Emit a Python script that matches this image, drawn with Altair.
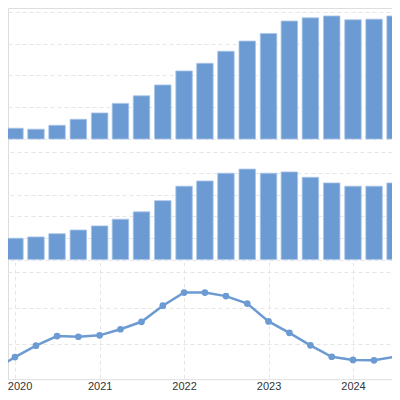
import altair as alt
import pandas as pd

quarters = ["2019-10-01", "2020-01-01", "2020-04-01", "2020-07-01", "2020-10-01",
            "2021-01-01", "2021-04-01", "2021-07-01", "2021-10-01",
            "2022-01-01", "2022-04-01", "2022-07-01", "2022-10-01",
            "2023-01-01", "2023-04-01", "2023-07-01", "2023-10-01",
            "2024-01-01", "2024-04-01", "2024-07-01"]
top_values = [0.26, 0.34, 0.31, 0.43, 0.62, 0.82, 1.12, 1.36, 1.70, 2.14, 2.38,
              2.76, 3.08, 3.32, 3.71, 3.81, 3.87, 3.75, 3.77, 3.87]
mid_values = [0.87, 0.99, 1.05, 1.20, 1.37, 1.56, 1.87, 2.21, 2.73, 3.40, 3.64,
              4.00, 4.19, 4.00, 4.06, 3.81, 3.55, 3.40, 3.40, 3.55]
low_values = [0.25, 0.62, 0.94, 1.21, 1.19, 1.23, 1.40, 1.61, 2.06, 2.43, 2.43,
              2.33, 2.12, 1.62, 1.30, 0.95, 0.63, 0.54, 0.53, 0.63]
year_ticks = [2020, 2021, 2022, 2023, 2024]

df = pd.DataFrame({"date": quarters, "top": top_values, "mid": mid_values, "low": low_values})

BLUE = "#6b9bd2"
GRID = "#e6e6e6"
W = 384
H = 371.2

xdomain = [alt.DateTime(year=2019, month=12, date=2, utc=True),
           alt.DateTime(year=2024, month=6, date=17, hours=14, utc=True)]
xvalues = [alt.DateTime(year=y, month=1, date=1, utc=True) for y in year_ticks]
xscale = alt.Scale(type="utc", domain=xdomain, padding=0, nice=False)

xaxis = alt.Axis(values=xvalues, grid=True, gridColor=GRID, gridDash=[4, 3],
                 domain=False, ticks=False, labels=True, format="%Y",
                 labelFont="Liberation Sans", labelFontSize=11, labelColor="#333333",
                 labelPadding=1.5, title=None,
                 labelOffset={"condition": {"test": "utcyear(datum.value) == 2020", "value": 4.6},
                              "value": 0})

def yaxis(vals, orient):
    return alt.Axis(values=vals, grid=True, gridColor=GRID, gridDash=[4, 3], orient=orient,
                    domain=False, ticks=False, labels=False, title=None)

base = alt.Chart(df)

top = base.mark_bar(clip=True, size=16.5, color=BLUE, stroke="#a9c5e8", strokeWidth=0.8).encode(
    x=alt.X("date:T", scale=xscale, axis=xaxis),
    y=alt.Y("top:Q", scale=alt.Scale(domain=[0, 4.12], nice=False, range=[131, 0]),
            axis=yaxis([0, 1, 2, 3, 4], "left")),
)

mid = base.mark_bar(clip=True, size=16.5, color=BLUE, stroke="#a9c5e8", strokeWidth=0.8).encode(
    x=alt.X("date:T", scale=xscale, axis=xaxis),
    y=alt.Y("mid:Q", scale=alt.Scale(domain=[0, 5], nice=False, range=[251.6, 143.6]),
            axis=yaxis([0, 1, 2, 3, 4, 5], "right")),
)

low = base.mark_line(clip=True, color=BLUE, strokeWidth=2.5,
                     point=alt.OverlayMarkDef(color=BLUE, size=45, filled=True, opacity=1)).encode(
    x=alt.X("date:T", scale=xscale, axis=xaxis),
    y=alt.Y("low:Q", scale=alt.Scale(domain=[0, 3], nice=False, range=[371.2, 264.2]),
            axis=yaxis([0, 1, 2, 3], "left")),
)

chart = alt.layer(top, mid, low).resolve_scale(y="independent").properties(
    width=W, height=H,
    autosize=alt.AutoSizeParams(type="none"),
    padding={"left": 0, "top": 0, "right": 0, "bottom": 12.8},
).configure_view(stroke=None).configure(background="white")

chart.save("out.html", embed_options={"renderer": "svg", "actions": False})
